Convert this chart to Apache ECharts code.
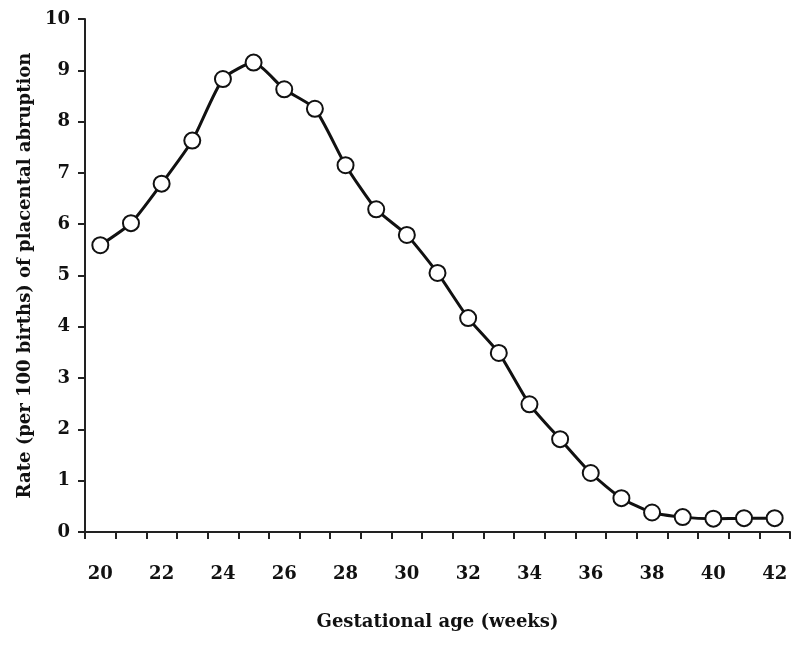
<!DOCTYPE html>
<html>
<head>
<meta charset="utf-8">
<script src="https://cdn.jsdelivr.net/npm/echarts@6/dist/echarts.min.js"></script>
<style>
  html, body { margin: 0; padding: 0; background: #fff; }
  #chart { width: 800px; height: 647px; }
</style>
</head>
<body>
<div id="chart"></div>
<script>
// gestational age in weeks
const weeks = ['20','21','22','23','24','25','26','27','28','29','30','31','32','33','34','35','36','37','38','39','40','41','42'];
// rate per 100 births
const rates = [5.59, 6.02, 6.79, 7.63, 8.83, 9.15, 8.63, 8.25, 7.15, 6.29, 5.79, 5.05, 4.17, 3.49, 2.49, 1.81, 1.15, 0.66, 0.38, 0.29, 0.26, 0.27, 0.27];
const yTicks = { min: 0, max: 10, interval: 1 };

const font = 'DejaVu Serif';
const chart = echarts.init(document.getElementById('chart'));

const option = {
    backgroundColor: '#fff',
    animation: false,
    grid: {
        left: 85,
        right: 10,
        top: 19,
        bottom: 115
    },
    xAxis: {
        type: 'category',
        data: weeks,
        boundaryGap: true,
        name: 'Gestational age (weeks)',
        nameLocation: 'middle',
        nameGap: 81,
        nameTextStyle: { fontFamily: font, fontWeight: 'bold', fontSize: 18, color: '#111' },
        axisLine: { lineStyle: { color: '#222', width: 2 } },
        axisTick: { show: true, length: 7, interval: 0, lineStyle: { color: '#222', width: 2 } },
        axisLabel: {
            interval: 1,
            margin: 33,
            fontFamily: font,
            fontWeight: 'bold',
            fontSize: 18,
            color: '#111'
        },
        splitLine: { show: false }
    },
    yAxis: {
        type: 'value',
        min: yTicks.min,
        max: yTicks.max,
        interval: yTicks.interval,
        name: 'Rate (per 100 births) of placental abruption',
        nameLocation: 'middle',
        nameGap: 41,
        nameTextStyle: { fontFamily: font, fontWeight: 'bold', fontSize: 18, color: '#111' },
        axisLine: { show: true, lineStyle: { color: '#222', width: 2 } },
        axisTick: { show: true, length: 7, lineStyle: { color: '#222', width: 2 } },
        axisLabel: {
            margin: 15,
            fontFamily: font,
            fontWeight: 'bold',
            fontSize: 18,
            color: '#111'
        },
        splitLine: { show: false }
    },
    series: [
        {
            type: 'line',
            data: rates,
            smooth: 0.2,
            symbol: 'circle',
            symbolSize: 16,
            lineStyle: { color: '#111', width: 3 },
            itemStyle: { color: '#fff', borderColor: '#111', borderWidth: 2 }
        }
    ]
};
chart.setOption(option);
</script>
</body>
</html>
